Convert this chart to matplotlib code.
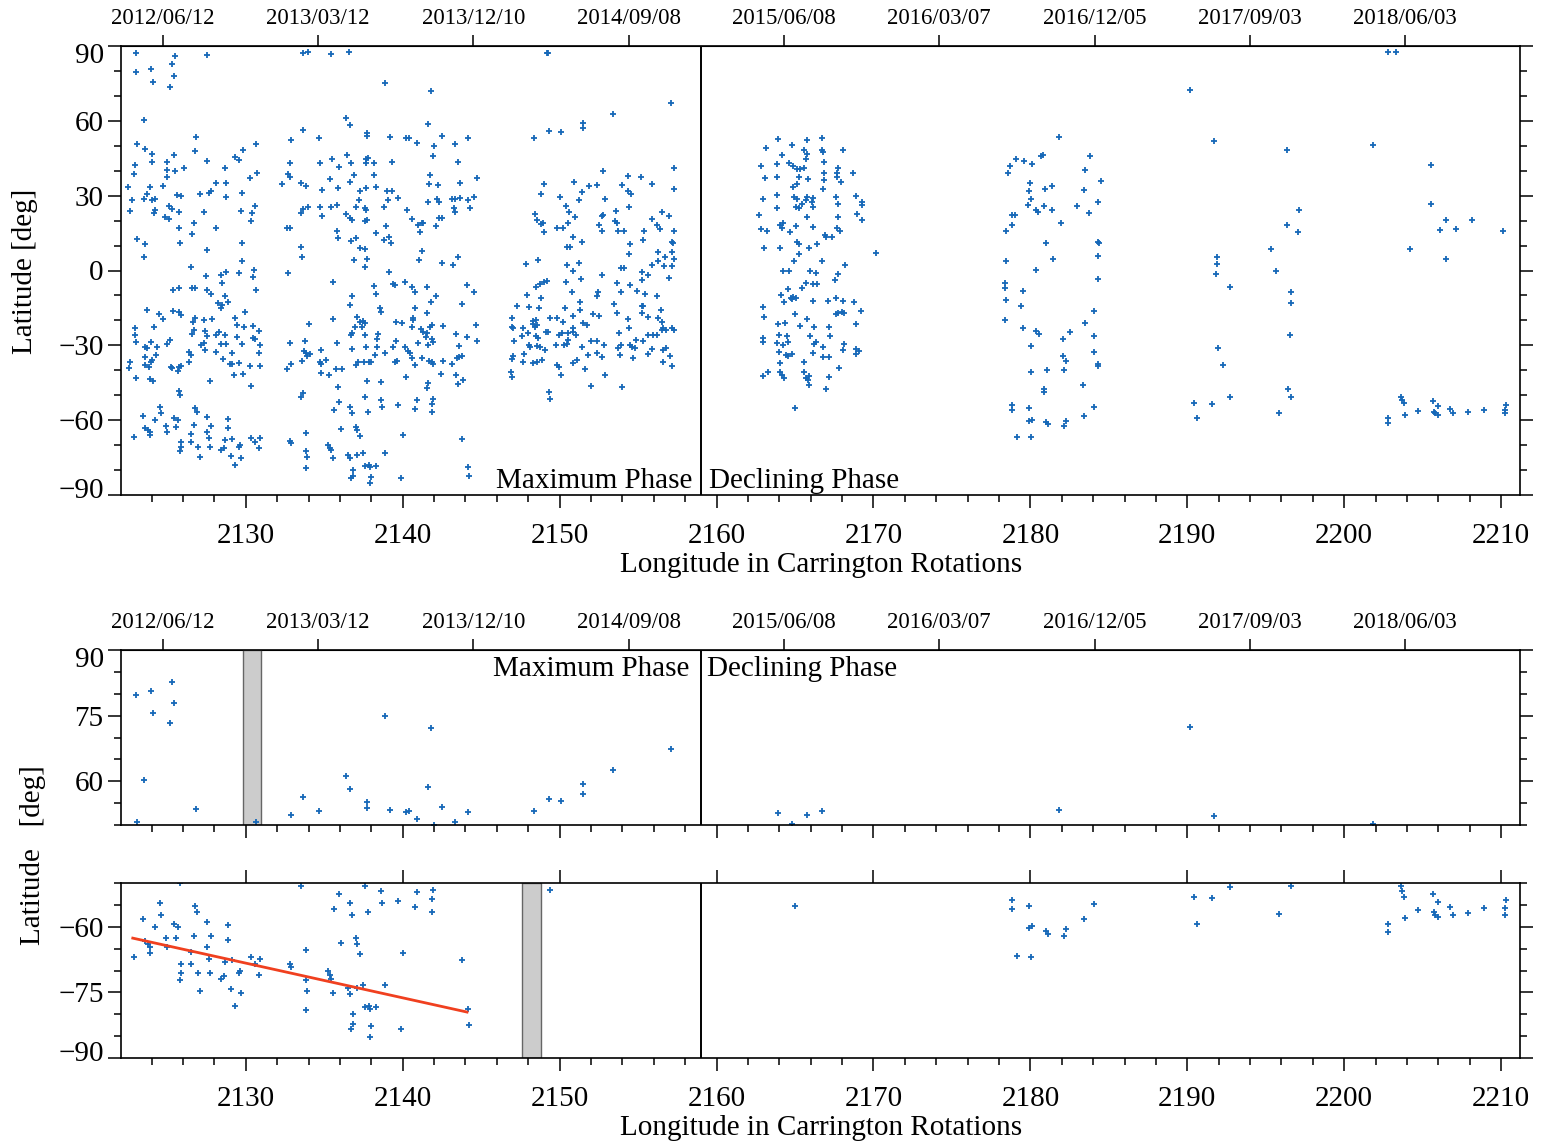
import numpy as np
import matplotlib
matplotlib.use("Agg")
import matplotlib.pyplot as plt
from matplotlib.ticker import MultipleLocator
from matplotlib.transforms import ScaledTranslation

plt.rcParams["font.family"] = ["Liberation Serif", "DejaVu Serif"]

# maximum phase (CR < 2159): Carrington rotation and latitude
max_cr = [
    2123.02, 2125.47, 2127.55, 2133.65, 2133.96, 2135.45, 2136.56, 2123.02,
    2123.94, 2124.09, 2125.32, 2125.42, 2125.15, 2138.90, 2123.50, 2136.40,
    2136.66, 2133.65, 2137.75, 2137.75, 2126.80, 2132.90, 2134.67, 2139.20,
    2140.20, 2130.67, 2123.09, 2123.55, 2124.04, 2125.45, 2126.76, 2129.29,
    2129.55, 2129.84, 2127.53, 2124.02, 2125.00, 2122.92, 2122.87, 2124.96,
    2124.96, 2125.47, 2126.04, 2128.70, 2130.70, 2130.30, 2122.49, 2123.90,
    2124.72, 2123.70, 2123.50, 2124.04, 2124.19, 2122.75, 2122.60, 2124.15,
    2124.23, 2125.60, 2125.89, 2125.08, 2125.30, 2124.87, 2125.08, 2125.74,
    2127.06, 2127.63, 2127.80, 2128.08, 2128.76, 2128.72, 2129.76, 2127.34,
    2129.72, 2130.57, 2130.42, 2130.35, 2125.74, 2126.70, 2126.57, 2128.08,
    2123.09, 2123.60, 2123.50, 2125.80, 2127.53, 2129.74, 2129.76, 2126.49,
    2127.46, 2128.44, 2128.76, 2129.55, 2130.50, 2130.44, 2132.31, 2132.69,
    2132.80, 2132.84, 2133.54, 2133.86, 2133.50, 2133.65, 2133.97, 2132.63,
    2132.80, 2133.50, 2133.58, 2132.69, 2134.70, 2134.86, 2134.75, 2134.86,
    2135.50, 2135.94, 2135.40, 2135.88, 2135.45, 2135.83, 2135.81, 2135.88,
    2136.45, 2136.73, 2136.90, 2136.66, 2136.36, 2136.66, 2136.79, 2137.00,
    2137.20, 2137.30, 2137.68, 2137.68, 2137.79, 2137.68, 2138.15, 2138.15,
    2138.32, 2137.57, 2137.68, 2137.57, 2137.72, 2136.73, 2137.04, 2137.26,
    2137.62, 2138.28, 2136.90, 2137.75, 2137.62, 2139.34, 2139.00, 2139.34,
    2139.06, 2139.70, 2138.79, 2138.96, 2138.81, 2139.10, 2139.28, 2140.30,
    2139.13, 2128.48, 2128.70, 2128.23, 2128.44, 2128.50, 2128.87, 2127.76,
    2127.55, 2126.57, 2126.78, 2125.36, 2125.74, 2130.63, 2123.70, 2124.47,
    2124.72, 2125.36, 2125.74, 2125.89, 2124.15, 2122.92, 2122.92, 2123.02,
    2122.64, 2122.54, 2123.02, 2123.55, 2123.72, 2123.94, 2124.36, 2123.60,
    2124.26, 2123.55, 2123.81, 2123.94, 2124.04, 2123.87, 2124.09, 2125.00,
    2125.19, 2125.25, 2125.30, 2125.74, 2125.68, 2125.89, 2125.72, 2125.79,
    2126.36, 2126.49, 2126.36, 2126.63, 2126.78, 2126.70, 2126.57, 2127.34,
    2127.87, 2127.42, 2127.55, 2127.17, 2127.34, 2127.42, 2127.74, 2128.12,
    2128.27, 2128.12, 2128.55, 2128.40, 2128.76, 2128.65, 2129.14, 2128.97,
    2129.12, 2129.57, 2129.25, 2129.84, 2129.33, 2129.44, 2129.89, 2129.46,
    2129.93, 2129.76, 2130.25, 2130.35, 2130.44, 2130.82, 2130.46, 2130.57,
    2130.88, 2130.82, 2130.88, 2124.55, 2124.62, 2123.45, 2124.23, 2123.55,
    2123.77, 2123.92, 2123.87, 2122.87, 2124.90, 2124.98, 2125.40, 2125.68,
    2125.57, 2125.89, 2125.89, 2125.79, 2126.49, 2126.49, 2126.70, 2126.95,
    2127.08, 2126.78, 2126.89, 2127.55, 2127.76, 2127.55, 2127.63, 2127.74,
    2128.40, 2128.61, 2128.65, 2128.87, 2128.87, 2129.14, 2129.04, 2129.33,
    2129.72, 2129.55, 2129.65, 2130.35, 2130.61, 2130.88, 2130.82, 2132.84,
    2132.63, 2132.90, 2133.75, 2134.00, 2133.69, 2133.86, 2134.07, 2133.90,
    2133.60, 2133.54, 2133.65, 2132.80, 2132.90, 2133.82, 2133.82, 2133.90,
    2133.86, 2134.81, 2134.70, 2134.81, 2135.13, 2134.77, 2135.28, 2135.58,
    2135.58, 2135.81, 2135.73, 2136.13, 2135.88, 2135.92, 2135.60, 2136.09,
    2135.24, 2135.35, 2135.45, 2135.56, 2136.62, 2136.79, 2136.73, 2136.79,
    2136.79, 2137.02, 2136.66, 2136.77, 2137.00, 2137.09, 2137.30, 2136.51,
    2136.62, 2136.83, 2136.83, 2136.73, 2137.09, 2137.47, 2137.07, 2137.26,
    2137.47, 2137.58, 2137.43, 2136.98, 2137.58, 2137.68, 2137.53, 2138.00,
    2137.83, 2137.15, 2137.75, 2137.62, 2137.79, 2137.58, 2137.83, 2137.94,
    2138.32, 2138.00, 2137.94, 2138.15, 2138.32, 2138.53, 2138.64, 2138.43,
    2138.36, 2138.38, 2138.21, 2138.60, 2138.64, 2138.68, 2138.90, 2139.38,
    2139.49, 2139.60, 2139.98, 2139.60, 2139.38, 2139.49, 2139.66, 2138.85,
    2139.70, 2140.02, 2139.90, 2140.23, 2140.17, 2140.13,
    2149.18, 2149.28, 2141.78, 2157.12, 2153.42, 2141.63, 2151.51, 2151.47,
    2149.35, 2150.09, 2148.37, 2140.42, 2140.93, 2142.53, 2142.00, 2143.33,
    2144.18, 2141.95, 2143.55, 2141.74, 2141.68, 2142.23, 2143.65, 2144.71,
    2141.59, 2142.16, 2142.33, 2143.12, 2143.33, 2143.65, 2143.27, 2143.33,
    2144.14, 2144.54, 2144.29, 2140.57, 2141.00, 2141.21, 2141.32, 2141.10,
    2142.10, 2142.33, 2142.53, 2141.25, 2141.06, 2142.53, 2143.18, 2143.50,
    2147.86, 2148.60, 2148.43, 2148.54, 2148.79, 2148.92, 2149.01, 2148.84,
    2149.03, 2150.03, 2150.41, 2150.62, 2150.98, 2150.56, 2150.24, 2149.86,
    2150.83, 2151.41, 2150.45, 2150.66, 2150.45, 2150.83, 2151.24, 2150.94,
    2151.45, 2151.26, 2151.90, 2152.36, 2152.79, 2152.89, 2152.51, 2152.72,
    2152.74, 2152.68, 2153.60, 2153.53, 2153.64, 2153.74, 2154.13, 2153.96,
    2154.38, 2154.55, 2154.38, 2154.40, 2154.49, 2154.45, 2153.89, 2154.10,
    2155.17, 2155.87, 2155.87, 2156.51, 2157.00, 2156.23, 2156.40, 2155.38,
    2155.34, 2156.29, 2156.25, 2156.72, 2157.31, 2157.14, 2157.25, 2157.14,
    2156.68, 2157.14, 2155.91, 2155.23, 2155.66, 2157.31, 2157.29, 2157.29,
    2140.57, 2140.78, 2141.57, 2142.12, 2141.78, 2144.08, 2144.54, 2143.76,
    2140.78, 2141.57, 2140.68, 2140.64, 2140.57, 2141.15, 2141.32, 2141.53,
    2141.74, 2141.85, 2142.55, 2141.85, 2141.95, 2141.63, 2141.00, 2141.49,
    2140.36, 2140.47, 2140.61, 2140.78, 2141.21, 2141.70, 2141.85, 2141.95,
    2142.59, 2142.44, 2141.63, 2141.57, 2140.93, 2140.78, 2141.95, 2141.85,
    2141.90, 2143.40, 2143.59, 2143.48, 2143.76, 2143.61, 2143.12, 2143.40,
    2143.50, 2143.82, 2144.08, 2144.71, 2144.67, 2143.76, 2144.18, 2144.23,
    2147.26, 2146.95, 2147.01, 2146.95, 2147.12, 2147.01, 2146.95, 2146.90,
    2146.95, 2147.65, 2147.73, 2147.58, 2147.65, 2147.90, 2148.07, 2148.71,
    2147.96, 2148.05, 2148.11, 2148.33, 2148.43, 2148.58, 2148.28, 2148.47,
    2148.50, 2148.65, 2148.54, 2148.75, 2148.33, 2148.54, 2148.86, 2148.50,
    2148.75, 2149.01, 2149.18, 2148.79, 2149.07, 2149.13, 2149.28, 2149.39,
    2149.35, 2149.39, 2149.81, 2150.24, 2150.13, 2149.98, 2150.34, 2149.75,
    2150.28, 2149.81, 2149.98, 2150.09, 2150.41, 2150.81, 2150.83, 2150.83,
    2150.56, 2151.05, 2150.83, 2150.56, 2150.45, 2150.83, 2151.09, 2151.36,
    2151.30, 2151.30, 2151.41, 2151.51, 2151.73, 2151.62, 2151.98, 2151.83,
    2151.98, 2152.36, 2152.15, 2152.53, 2152.36, 2152.68, 2152.83, 2152.47,
    2152.36, 2152.89, 2153.47, 2153.64, 2153.64, 2153.89, 2153.81, 2153.74,
    2153.89, 2153.85, 2153.96, 2154.34, 2154.42, 2154.49, 2154.49, 2154.64,
    2154.81, 2154.70, 2154.96, 2154.87, 2155.23, 2155.34, 2155.23, 2155.66,
    2155.44, 2155.23, 2155.34, 2155.66, 2155.98, 2156.23, 2155.66, 2155.91,
    2156.23, 2156.29, 2156.46, 2156.51, 2156.51, 2156.61, 2156.76, 2157.14,
    2157.31, 2156.61, 2156.76, 2156.57, 2157.04, 2157.14, 2156.99, 2152.68,
]
max_lat = [
    87.3, 86.0, 86.4, 87.3, 87.5, 86.8, 87.5, 79.7,
    80.7, 75.7, 82.7, 78.0, 73.4, 75.0, 60.3, 61.3,
    58.3, 56.3, 55.3, 54.0, 53.7, 52.3, 53.3, 53.4,
    53.0, 50.7, 50.7, 48.8, 46.7, 46.2, 47.9, 45.6,
    44.3, 48.3, 44.0, 43.6, 43.5, 42.2, 38.7, 40.3,
    37.6, 39.9, 41.2, 40.9, 39.2, 36.9, 33.5, 33.6,
    34.0, 30.5, 28.5, 28.3, 28.5, 28.1, 23.7, 22.9,
    24.3, 30.1, 29.9, 25.9, 24.8, 21.6, 20.5, 23.6,
    30.7, 30.9, 32.0, 35.2, 34.9, 29.6, 31.2, 23.6,
    24.0, 25.9, 23.2, 20.0, 17.2, 18.9, 14.5, 17.2,
    12.5, 10.6, 5.5, 11.2, 8.1, 11.0, 3.8, 1.3,
    -2.2, -1.8, -0.5, -0.9, 0.2, -2.5, 34.8, 38.6,
    37.6, 43.2, 34.9, 34.0, 23.2, 24.5, 25.3, 17.2,
    17.2, 9.5, 5.3, -0.9, 43.0, 32.3, 25.6, 22.0,
    44.7, 41.5, 36.7, 33.2, 25.6, 26.4, 16.0, 12.9,
    46.4, 43.2, 38.3, 35.3, 22.7, 21.2, 20.3, 25.6,
    28.3, 32.0, 32.9, 44.6, 45.0, 43.2, 43.0, 38.3,
    33.6, 24.9, 24.3, 19.8, 20.2, 11.9, 12.9, 8.9,
    8.5, 15.2, 4.2, 4.6, 1.5, 43.6, 32.0, 32.0,
    28.3, 29.2, 25.3, 17.8, 12.2, 13.6, 11.2, 24.3,
    -0.7, -5.1, -10.1, -13.2, -14.9, -13.8, -12.8, -9.6,
    -7.8, -7.2, -6.9, -7.8, -7.1, -8.0, -15.7, -17.4,
    -19.4, -16.2, -16.8, -17.8, -22.5, -23.2, -25.9, -28.8,
    -36.6, -39.2, -43.2, -30.5, -31.2, -28.8, -30.8, -34.5,
    -33.9, -37.9, -38.6, -36.6, -35.9, -43.6, -44.2, -29.6,
    -27.9, -38.6, -39.2, -38.6, -40.3, -38.2, -48.3, -49.9,
    -32.5, -33.9, -36.8, -20.5, -19.2, -23.9, -25.5, -19.9,
    -19.4, -24.3, -26.1, -29.9, -29.2, -31.9, -44.2, -25.9,
    -24.8, -32.8, -35.6, -29.5, -29.6, -25.9, -33.0, -37.6,
    -37.4, -37.2, -41.9, -41.6, -18.9, -21.9, -22.8, -26.7,
    -16.8, -29.5, -38.2, -46.4, -22.3, -24.3, -27.0, -27.5,
    -29.9, -33.2, -38.2, -54.6, -57.3, -58.3, -60.0, -63.3,
    -64.0, -66.0, -64.6, -66.9, -62.5, -64.6, -59.3, -60.0,
    -62.6, -68.6, -70.6, -72.2, -65.7, -68.6, -62.0, -70.6,
    -74.6, -55.3, -56.6, -58.9, -62.2, -64.6, -67.3, -70.6,
    -72.0, -71.3, -68.0, -59.5, -63.0, -67.6, -74.2, -78.0,
    -75.1, -70.6, -70.0, -67.0, -68.6, -67.3, -71.0, -29.0,
    -39.5, -37.5, -28.3, -21.6, -32.3, -33.2, -33.6, -34.1,
    -36.3, -50.6, -49.3, -68.4, -69.3, -65.3, -72.2, -74.6,
    -79.1, -31.9, -36.6, -37.6, -35.9, -41.2, -41.9, -4.6,
    -19.4, -29.2, -39.5, -39.5, -46.6, -52.6, -56.0, -63.6,
    -70.0, -71.0, -72.0, -75.1, -13.8, -10.1, -25.9, -25.2,
    -31.5, -37.9, -54.6, -57.3, -62.6, -64.0, -66.2, -74.0,
    -75.3, -80.0, -82.3, -83.3, -74.0, -73.3, -18.8, -20.5,
    -20.2, -21.2, -22.5, -22.8, -25.9, -30.5, -36.6, -36.6,
    -36.8, -36.6, -44.3, -50.6, -56.6, -78.3, -78.0, -78.7,
    -78.3, -82.7, -85.3, -6.1, -9.4, -15.2, -16.5, -25.6,
    -27.5, -30.5, -33.9, -44.8, -51.9, -54.6, -73.3, -5.5,
    -5.8, -20.5, -20.9, -28.3, -30.5, -36.6, -36.2, -33.2,
    -54.0, -66.0, -83.3, -42.8, -30.5, -4.5,
    87.3, 87.1, 72.1, 67.3, 62.6, 58.6, 59.3, 57.0,
    55.9, 55.5, 53.3, 53.3, 51.3, 54.1, 50.0, 50.6,
    53.0, 45.9, 43.5, 38.3, 34.7, 34.4, 35.2, 37.2,
    27.6, 28.5, 27.3, 28.7, 28.5, 29.2, 24.9, 23.6,
    28.3, 29.3, 25.2, 20.5, 18.3, 18.9, 19.2, 15.6,
    18.0, 21.2, 20.9, 7.8, 4.2, 3.1, 2.2, 5.5,
    2.5, 4.1, 22.5, 20.3, 18.5, 19.2, 15.3, 30.7,
    34.7, 29.3, 26.0, 23.6, 21.4, 18.9, 17.2, 16.9,
    13.6, 11.6, 9.3, 9.3, 2.1, -0.2, 2.9, 35.5,
    31.5, 28.1, 34.0, 34.4, 39.8, 28.5, 18.2, 21.9,
    22.3, 15.8, 24.0, 19.8, 19.2, 15.8, 15.8, 34.1,
    31.9, 30.7, 38.0, 25.6, 10.6, 6.5, 0.9, 1.1,
    37.6, 34.7, 20.6, 23.3, 21.9, 18.2, 16.5, 15.8,
    12.2, 7.5, 3.9, 5.5, 4.6, 11.6, 10.9, 7.5,
    1.8, 1.8, 2.2, -0.7, -1.8, 15.8, 41.2, 32.8,
    -6.5, -8.5, -6.5, -10.2, -12.8, -5.8, -8.5, -13.6,
    -15.2, -17.2, -18.9, -19.8, -22.5, -23.6, -24.5, -25.2,
    -22.5, -21.9, -22.1, -27.5, -28.8, -29.9, -29.2, -26.5,
    -32.3, -33.2, -35.2, -37.9, -35.0, -36.3, -36.8, -37.6,
    -36.3, -41.6, -45.2, -47.3, -52.0, -55.5, -51.5, -53.7,
    -56.6, -25.6, -30.1, -35.0, -34.1, -34.6, -37.6, -41.9,
    -45.5, -44.0, -26.5, -28.3, -21.9, -67.7, -78.7, -82.4,
    -14.1, -19.2, -23.2, -22.5, -28.3, -34.1, -35.6, -40.8,
    -42.6, -36.6, -33.6, -26.1, -22.9, -9.8, -14.5, -15.2,
    -25.2, -29.9, -30.5, -20.3, -22.5, -21.9, -21.6, -19.8,
    -26.1, -27.0, -30.3, -30.5, -37.2, -36.6, -35.9, -6.5,
    -5.5, -4.5, -4.2, -11.2, -31.9, -24.5, -24.8, -19.2,
    -48.6, -51.7, -19.2, -20.5, -25.2, -25.9, -14.9, -29.9,
    -29.9, -37.9, -38.6, -41.9, -4.5, -8.5, -23.0, -24.5,
    -25.2, -25.9, -18.2, -27.9, -29.6, -37.2, -35.9, -3.4,
    -12.5, -15.8, -30.5, -21.2, -21.9, -39.5, -46.2, -33.9,
    -28.3, -28.3, -17.6, -18.1, -33.2, -34.6, -29.9, -8.5,
    -10.1, -42.0, -13.6, -16.9, -5.1, -8.5, -25.2, -31.0,
    -29.9, -33.9, -46.6, -19.6, -23.2, -5.8, -29.9, -30.5,
    -31.2, -35.2, -8.2, -27.9, -14.1, -14.1, -17.2, -18.5,
    -9.6, -3.8, -28.3, -25.9, -25.9, -25.9, -33.6, -31.5,
    -10.1, -19.2, -15.8, -20.5, -23.9, -23.2, -23.9, -23.2,
    -23.9, -31.9, -31.2, -36.6, -34.1, -38.2, -3.1, -1.8,
]

# declining phase (CR > 2159)
dec_cr = [
    2163.94, 2165.75, 2166.72, 2163.13, 2164.79, 2165.60, 2166.70, 2166.81,
    2168.04, 2164.15, 2165.75, 2165.68, 2162.84, 2163.88, 2164.64, 2164.90,
    2165.11, 2165.32, 2165.60, 2166.85, 2167.77, 2167.66, 2167.66, 2167.94,
    2166.85, 2166.85, 2168.68, 2163.09, 2163.88, 2165.26, 2165.85, 2164.90,
    2165.11, 2166.81, 2162.94, 2163.84, 2164.94, 2165.11, 2165.70, 2165.75,
    2166.17, 2166.07, 2167.60, 2167.77, 2168.87, 2169.25, 2169.25, 2162.73,
    2163.84, 2165.07, 2165.26, 2165.43, 2165.75, 2166.17, 2167.77, 2168.98,
    2169.25, 2162.84, 2163.20, 2164.05, 2164.26, 2164.15, 2164.68, 2165.05,
    2166.17, 2167.70, 2167.87, 2166.92, 2166.98, 2167.34, 2166.39, 2165.15,
    2165.28, 2163.05, 2164.05, 2165.92, 2165.28, 2164.96, 2166.75, 2170.17,
    2168.19, 2164.26, 2164.64, 2165.96, 2166.32, 2167.72,
    2167.55, 2165.70, 2166.17, 2166.43, 2165.43, 2164.58, 2164.09, 2164.73,
    2164.90, 2165.07, 2164.79, 2164.32, 2166.17, 2167.13, 2167.60, 2168.08,
    2168.76, 2162.98, 2163.05, 2165.00, 2165.75, 2167.62, 2167.77, 2167.98,
    2168.15, 2169.19, 2163.94, 2164.37, 2165.32, 2166.22, 2167.19, 2168.87,
    2162.98, 2162.98, 2163.98, 2164.47, 2164.58, 2163.84, 2164.22, 2165.96,
    2166.34, 2166.24, 2166.77, 2167.23, 2168.15, 2168.04, 2168.89, 2169.10,
    2168.89, 2164.00, 2164.43, 2164.58, 2164.83, 2166.13, 2166.77, 2167.19,
    2164.05, 2165.58, 2167.83, 2162.98, 2163.26, 2164.05, 2164.15, 2164.32,
    2165.58, 2165.70, 2165.92, 2165.85, 2165.92, 2167.19, 2166.98, 2165.02,
    2178.58, 2178.67, 2179.06, 2179.61, 2180.09, 2180.70, 2180.81, 2181.80,
    2183.77, 2183.51, 2183.44, 2184.47, 2184.32, 2183.73, 2182.96, 2179.98,
    2179.93, 2180.04, 2179.87, 2180.37, 2180.48, 2180.92, 2181.36, 2180.85,
    2181.36, 2181.97, 2178.84, 2179.01, 2178.84, 2178.47, 2180.99, 2184.32,
    2184.40, 2184.32, 2184.32, 2181.42, 2180.37, 2178.47, 2178.40, 2178.40,
    2178.47, 2179.56, 2179.39, 2178.40, 2184.03, 2183.51, 2179.56, 2180.37,
    2180.55, 2182.50, 2182.06, 2180.04, 2184.05, 2184.05, 2182.08, 2182.30,
    2182.13, 2184.32, 2184.32, 2181.07, 2180.07, 2180.88, 2180.88, 2183.33,
    2178.84, 2178.84, 2179.93, 2184.05, 2183.44, 2179.89, 2180.09, 2180.99,
    2181.14, 2182.13, 2182.24, 2179.17, 2180.07,
    2190.17, 2191.70, 2191.88, 2191.92, 2191.83, 2192.69, 2191.94, 2192.27,
    2192.75, 2190.45, 2190.63, 2191.55, 2196.37, 2197.09, 2196.33, 2197.03,
    2195.34, 2195.65, 2196.63, 2196.59, 2196.52, 2196.44, 2196.63, 2195.82,
    2202.79, 2203.32, 2201.81, 2205.51, 2205.51, 2206.50, 2206.08, 2207.15,
    2208.14, 2210.11, 2204.22, 2206.50, 2202.79, 2202.79, 2203.60, 2203.67,
    2203.82, 2203.89, 2204.70, 2205.64, 2205.95, 2205.69, 2205.80, 2205.97,
    2206.74, 2206.93, 2207.88, 2208.93, 2210.29, 2210.24, 2210.24,
]
dec_lat = [
    52.7, 52.3, 53.3, 49.2, 50.2, 48.3, 48.3, 47.7,
    48.3, 46.3, 46.7, 44.7, 41.9, 42.6, 43.0, 41.9,
    40.7, 40.8, 41.0, 43.6, 41.2, 39.2, 37.4, 35.5,
    39.0, 36.3, 39.0, 37.2, 37.6, 37.6, 36.7, 33.6,
    34.7, 32.7, 28.5, 30.1, 29.6, 28.5, 28.3, 29.3,
    28.9, 27.6, 29.3, 26.7, 29.9, 27.6, 26.3, 22.1,
    24.9, 25.6, 24.9, 26.5, 21.6, 25.6, 21.6, 22.5,
    20.3, 16.5, 15.8, 18.2, 18.9, 16.9, 15.3, 17.8,
    17.3, 16.9, 16.0, 14.2, 13.5, 13.3, 10.6, 11.5,
    10.5, 8.9, 8.9, 8.9, 6.5, 3.9, 3.9, 6.9,
    2.2, -0.1, -0.1, -0.1, -1.1, -1.5,
    -3.8, -5.1, -5.4, -5.4, -7.2, -7.4, -9.8, -10.9,
    -10.5, -11.2, -11.6, -12.8, -12.1, -12.1, -10.9, -12.1,
    -12.8, -14.8, -18.8, -17.4, -19.4, -17.6, -17.2, -16.5,
    -17.2, -16.2, -21.5, -20.9, -22.1, -22.7, -22.8, -21.6,
    -26.9, -28.5, -25.9, -26.3, -28.8, -28.9, -29.9, -26.1,
    -28.8, -29.6, -30.5, -26.3, -29.5, -31.9, -31.5, -32.3,
    -33.6, -32.5, -33.9, -34.1, -33.6, -33.0, -34.8, -34.6,
    -37.0, -36.8, -39.0, -42.3, -40.8, -40.6, -41.9, -43.2,
    -40.6, -43.0, -42.3, -43.9, -45.9, -42.8, -47.6, -55.3,
    39.0, 42.0, 44.6, 43.7, 42.6, 46.0, 46.4, 53.5,
    45.9, 40.4, 32.3, 36.0, 27.6, 22.9, 26.0, 35.0,
    31.7, 28.7, 26.3, 24.3, 23.6, 32.6, 33.7, 25.9,
    24.3, 18.9, 22.3, 22.3, 18.2, 15.8, 11.1, 11.3,
    11.1, 5.8, -3.5, 4.8, 0.4, 3.8, -5.0, -7.2,
    -11.9, -8.2, -14.3, -19.7, -16.4, -21.1, -22.9, -24.4,
    -25.6, -24.7, -27.6, -30.3, -26.4, -32.7, -34.1, -36.3,
    -39.8, -37.4, -38.3, -39.7, -40.5, -47.5, -48.8, -46.1,
    -53.9, -55.9, -55.3, -54.8, -58.2, -60.2, -59.8, -60.9,
    -61.6, -62.2, -60.5, -66.7, -66.9,
    72.3, 52.0, 5.5, 2.6, -1.5, -6.7, -31.0, -37.7,
    -50.8, -53.2, -59.3, -53.5, 48.4, 24.3, 18.2, 15.4,
    8.5, 0.0, -8.8, -12.9, -26.0, -47.5, -50.6, -57.0,
    87.6, 87.6, 50.3, 42.1, 26.7, 20.3, 16.2, 16.6,
    20.3, 15.7, 8.7, 4.6, -59.3, -61.2, -50.6, -51.9,
    -53.2, -57.9, -56.2, -52.4, -54.4, -56.6, -57.3, -57.8,
    -55.5, -57.3, -56.9, -55.8, -53.9, -55.8, -57.3,
]

# linear fit of the southern polar points and the gaps in coverage
fit_cr = [2122.8, 2144.1]
fit_lat = [-62.6, -79.5]
gap_north = (2129.83, 2130.99)
gap_south = (2147.62, 2148.81)
phase_split = 2159.0

date_labels = ["2012/06/12", "2013/03/12", "2013/12/10", "2014/09/08", "2015/06/08",
               "2016/03/07", "2016/12/05", "2017/09/03", "2018/06/03"]
date_cr = 2124.72 + 9.895 * np.arange(len(date_labels))

cr = np.array(max_cr + dec_cr)
lat = np.array(max_lat + dec_lat)
polar = lat < 85  # the zoomed panels leave out the points sitting on the pole

W, H = 1545, 1144
fig = plt.figure(figsize=(W / 100, H / 100), dpi=100)
ax1 = fig.add_axes([121 / W, 1 - 495 / H, 1399 / W, 449 / H])
ax2 = fig.add_axes([121 / W, 1 - 825 / H, 1399 / W, 175 / H])
ax3 = fig.add_axes([121 / W, 1 - 1058 / H, 1399 / W, 175 / H])

blue = "#1668b8"
fs = 21
ms, mew = 5, 1.3


def style(ax, major, minor):
    ax.set_xlim(2122.05, 2211.2)
    ax.xaxis.set_major_locator(MultipleLocator(10))
    ax.xaxis.set_minor_locator(MultipleLocator(2))
    ax.yaxis.set_major_locator(MultipleLocator(major))
    ax.yaxis.set_minor_locator(MultipleLocator(minor))
    ax.tick_params(which="both", direction="out", left=True, right=True,
                   width=1.1, labelsize=fs)
    ax.tick_params(which="major", length=9.5)
    ax.tick_params(which="minor", length=4.8)
    ax.tick_params(axis="x", pad=11)
    ax.tick_params(axis="y", pad=3)
    for s in ax.spines.values():
        s.set_linewidth(1.2)
    ax.axvline(phase_split, color="black", lw=1.4)


def date_axis(ax):
    sec = ax.secondary_xaxis("top")
    sec.set_xticks(date_cr, date_labels)
    sec.tick_params(direction="out", length=8, width=1.1, labelsize=16.5, pad=4)
    sec.xaxis.set_minor_locator(plt.NullLocator())


def shift_end_labels(ax, top_val, bottom_val, ticks):
    ax.set_yticks(ticks)
    ax.set_yticklabels([f"{t:d}".replace("-", "\u2212") for t in ticks])
    for t, lab in zip(ticks, ax.get_yticklabels()):
        if t == top_val:
            lab.set_transform(lab.get_transform() + ScaledTranslation(0, -5 / 72, fig.dpi_scale_trans))
        if t == bottom_val:
            lab.set_transform(lab.get_transform() + ScaledTranslation(0, 5 / 72, fig.dpi_scale_trans))


# top panel: all latitudes
style(ax1, 30, 10)
ax1.set_ylim(-90, 90)
ax1.plot(cr, lat, "+", color=blue, ms=ms, mew=mew)
shift_end_labels(ax1, 90, -90, [-90, -60, -30, 0, 30, 60, 90])
ax1.tick_params(axis="x", top=False)
date_axis(ax1)
ax1.text(2158.45, -87.2, "Maximum Phase", ha="right", va="baseline", fontsize=fs)
ax1.text(2159.5, -87.2, "Declining Phase", ha="left", va="baseline", fontsize=fs)
fig.text(25 / W, 1 - 271 / H, "Latitude [deg]", rotation=90, ha="center", va="center", fontsize=fs)
fig.text(821 / W, 1 - 565 / H, "Longitude in Carrington Rotations", ha="center", va="center", fontsize=fs)

# bottom: northern and southern polar regions
style(ax2, 15, 5)
ax2.set_ylim(50, 90)
ax2.plot(cr[polar], lat[polar], "+", color=blue, ms=ms, mew=mew)
ax2.axvspan(*gap_north, facecolor="#cccccc", edgecolor="#666666", lw=1.0)
shift_end_labels(ax2, 90, None, [60, 75, 90])
ax2.tick_params(axis="x", top=False, labelbottom=False)
date_axis(ax2)
ax2.text(2158.3, 84.0, "Maximum Phase", ha="right", va="baseline", fontsize=fs)
ax2.text(2159.4, 84.0, "Declining Phase", ha="left", va="baseline", fontsize=fs)

style(ax3, 15, 5)
ax3.set_ylim(-90, -50)
ax3.plot(cr[polar], lat[polar], "+", color=blue, ms=ms, mew=mew)
ax3.axvspan(*gap_south, facecolor="#cccccc", edgecolor="#666666", lw=1.0)
ax3.plot(fit_cr, fit_lat, color="#f0401f", lw=2)
shift_end_labels(ax3, None, -90, [-90, -75, -60])
ax3.tick_params(axis="x", top=True, labeltop=False)
fig.text(33 / W, 1 - 855 / H, "Latitude   [deg]", rotation=90, ha="center", va="center", fontsize=fs)
fig.text(821 / W, 1 - 1128 / H, "Longitude in Carrington Rotations", ha="center", va="center", fontsize=fs)

fig.savefig("out.png", dpi=100)
